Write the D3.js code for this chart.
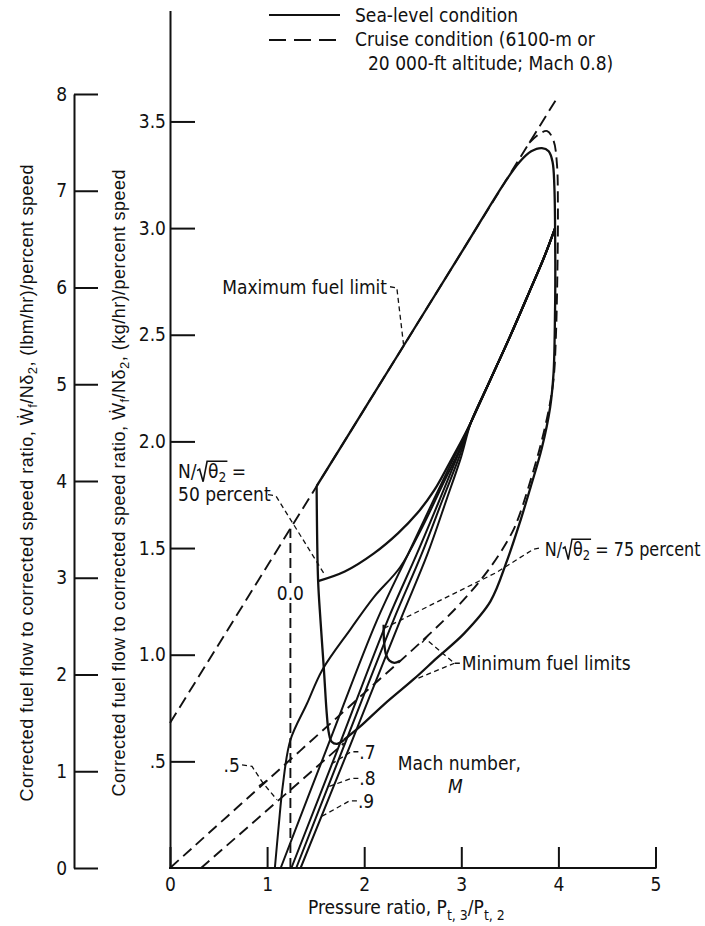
<!DOCTYPE html>
<html>
<head>
<meta charset="utf-8">
<script src="https://cdn.jsdelivr.net/npm/d3@7"></script>
<style>
  html, body { margin: 0; padding: 0; background: #fff; }
  svg { display: block; }
</style>
</head>
<body>
<svg id="chart" width="705" height="926"></svg>
<script>
// ---------- axis ticks ----------
const xTicks = [0, 1, 2, 3, 4, 5];
const kgTicks = [0.5, 1.0, 1.5, 2.0, 2.5, 3.0, 3.5];
const kgTickLabels = [".5", "1.0", "1.5", "2.0", "2.5", "3.0", "3.5"];
const lbmTicks = [0, 1, 2, 3, 4, 5, 6, 7, 8];

// ---------- sea-level condition (solid) ----------
// maximum fuel limit, 100-percent-speed edge and minimum fuel limit
const seaLevelEnvelope = [
  [1.51, 1.79], [2.0, 2.15], [2.5, 2.5175], [3.0, 2.885], [3.45, 3.216], [3.6, 3.31],
  [3.72, 3.36], [3.83, 3.375], [3.9, 3.36], [3.94, 3.31], [3.958, 3.2], [3.966, 3.0],
  [3.968, 2.75], [3.962, 2.5], [3.95, 2.32], [3.915, 2.16], [3.83, 1.97], [3.71, 1.78],
  [3.61, 1.63], [3.47, 1.44], [3.30, 1.25], [3.03, 1.10], [2.75, 0.985], [2.51, 0.885],
  [2.2, 0.765], [1.95, 0.66], [1.79, 0.60]
];
// 50-percent corrected speed: left edge with its hook
const speed50Edge = [
  [1.51, 1.79], [1.525, 1.35], [1.55, 1.16], [1.585, 0.93], [1.615, 0.72],
  [1.635, 0.635], [1.665, 0.592], [1.72, 0.582], [1.79, 0.60]
];
// 50-percent corrected speed curve running into the common trunk
const speed50Curve = [
  [1.525, 1.345], [1.8, 1.39], [2.1, 1.475], [2.35, 1.57], [2.55, 1.665],
  [2.72, 1.77], [2.88, 1.9], [3.0, 2.0], [3.1, 2.09]
];
// common upper trunk shared by the operating lines
const trunk = [[3.1, 2.09], [3.3, 2.29], [3.5, 2.49], [3.7, 2.70], [3.85, 2.86], [3.966, 3.0]];
// Mach-number operating lines
const mach00 = [
  [1.08, 0], [1.12, 0.2], [1.16, 0.38], [1.24, 0.60], [1.41, 0.77], [1.57, 0.93],
  [1.86, 1.12], [2.1, 1.27], [2.37, 1.41], [2.6, 1.6], [2.8, 1.79], [2.97, 1.95], [3.1, 2.09]
];
const mach05 = [[1.14, 0], [1.64, 0.59], [2.13, 1.16], [2.45, 1.47], [2.72, 1.73], [2.93, 1.93], [3.1, 2.09]];
const mach07 = [[1.25, 0], [1.73, 0.56], [2.24, 1.16], [2.54, 1.47], [2.78, 1.73], [2.96, 1.93], [3.1, 2.09]];
const mach08 = [[1.30, 0], [1.79, 0.57], [2.30, 1.16], [2.59, 1.47], [2.81, 1.73], [2.98, 1.93], [3.1, 2.09]];
const mach09 = [[1.345, 0], [1.86, 0.58], [2.37, 1.16], [2.65, 1.47], [2.85, 1.73], [3.0, 1.93], [3.1, 2.09]];
// 75-percent corrected speed hook
const speed75Hook = [[2.20, 1.14], [2.205, 1.06], [2.225, 1.0], [2.26, 0.972], [2.31, 0.962], [2.37, 0.972]];

// ---------- cruise condition (dashed) ----------
const cruiseMaxLine = [[0, 0.68], [4.0, 3.62]];
const cruiseEnvelope = [
  [3.70, 3.40], [3.80, 3.44], [3.885, 3.455], [3.95, 3.41], [3.985, 3.30], [3.995, 3.1],
  [3.99, 2.8], [3.975, 2.5], [3.952, 2.3], [3.91, 2.17], [3.815, 1.98], [3.695, 1.79],
  [3.595, 1.65], [3.52, 1.57], [3.3, 1.41], [3.0, 1.245], [2.61, 1.07], [2.0, 0.82],
  [1.0, 0.41], [0, 0]
];
const cruiseSpeedLine = [[1.24, 0], [1.24, 1.59]];
const cruiseMinLine = [[0.32, 0], [1.79, 0.585]];

// ---------- leaders ----------
const leaderMax = [[2.266, 2.725], [2.336, 2.72], [2.405, 2.455]];
const leader50 = [[1.01, 1.75], [1.09, 1.745], [1.60, 1.37]];
const leader75 = [[3.80, 1.50], [3.745, 1.495], [3.36, 1.385], [2.21, 1.125]];
const leaderMinUpper = [[2.985, 0.96], [2.93, 0.96], [2.63, 1.075]];
const leaderMinLower = [[2.93, 0.96], [2.53, 0.885]];
const leaderM05 = [[0.742, 0.483], [0.845, 0.476], [0.958, 0.398], [1.102, 0.32]];
const leaderM07 = [[1.94, 0.545], [1.865, 0.545], [1.67, 0.49]];
const leaderM08 = [[1.94, 0.42], [1.865, 0.42], [1.627, 0.38]];
const leaderM09 = [[1.925, 0.315], [1.85, 0.315], [1.555, 0.24]];

// ---------- drawing ----------
const FONT = "'DejaVu Sans Condensed', 'DejaVu Sans', sans-serif";
const TITLE_FONT = "'Liberation Sans', Arial, sans-serif";
const FS = 19;
const INK = "#111";

const svg = d3.select("#chart");
svg.append("rect").attr("width", 705).attr("height", 926).attr("fill", "#fff");

const x = d3.scaleLinear().domain([0, 5]).range([170, 655.5]);
const y = d3.scaleLinear().domain([0, 4.02]).range([868, 868 - 4.02 * 213.3]);
const yLbm = d3.scaleLinear().domain([0, 8]).range([868, 868 - 8 * 213.3 * 0.45359]);

const smooth = d3.line().x(d => x(d[0])).y(d => y(d[1])).curve(d3.curveCatmullRom.alpha(0.5));
const straight = d3.line().x(d => x(d[0])).y(d => y(d[1]));

function styleAxis(g) {
  g.selectAll("path.domain").attr("stroke", INK).attr("stroke-width", 2);
  g.selectAll(".tick line").attr("stroke", INK).attr("stroke-width", 2);
  g.selectAll(".tick text").attr("fill", INK).style("font-family", FONT).style("font-size", FS + "px");
}

// main (kg) axis
const gKg = svg.append("g").attr("transform", `translate(${x(0)},0)`)
  .call(d3.axisLeft(y).tickValues(kgTicks).tickFormat((d, i) => kgTickLabels[i])
    .tickSizeInner(-25).tickSizeOuter(0).tickPadding(4));
styleAxis(gKg);

// secondary (lbm) axis
const gLbm = svg.append("g").attr("transform", "translate(74,0)")
  .call(d3.axisLeft(yLbm).tickValues(lbmTicks).tickFormat(d3.format("d"))
    .tickSizeInner(-24).tickSizeOuter(0).tickPadding(7));
styleAxis(gLbm);

// pressure-ratio axis
const gX = svg.append("g").attr("transform", `translate(0,${y(0)})`)
  .call(d3.axisBottom(x).tickValues(xTicks).tickFormat(d3.format("d"))
    .tickSizeInner(-21).tickSizeOuter(0).tickPadding(10));
styleAxis(gX);
gX.select("path.domain").attr("d", `M${x(0) - 1},0H${x(5) + 1}`);

// curves
function drawSolid(pts, w = 2.3) {
  svg.append("path").attr("d", smooth(pts)).attr("fill", "none")
    .attr("stroke", INK).attr("stroke-width", w).attr("stroke-linejoin", "round");
}
function drawDashed(pts, gen = smooth, dash = "11,6", w = 1.9) {
  svg.append("path").attr("d", gen(pts)).attr("fill", "none")
    .attr("stroke", INK).attr("stroke-width", w).attr("stroke-dasharray", dash);
}
function drawLeader(pts) {
  svg.append("path").attr("d", straight(pts)).attr("fill", "none")
    .attr("stroke", INK).attr("stroke-width", 1.3).attr("stroke-dasharray", "5,3.5");
}
function tickOnLeader(p, q, len = 10) {
  const px = x(p[0]), py = y(p[1]), qx = x(q[0]), qy = y(q[1]);
  const dx = px - qx, dy = py - qy, L = Math.hypot(dx, dy);
  const nx = -dy / L * len / 2, ny = dx / L * len / 2;
  svg.append("line").attr("x1", px - nx).attr("y1", py - ny).attr("x2", px + nx).attr("y2", py + ny)
    .attr("stroke", INK).attr("stroke-width", 1.3);
}

// cruise condition (dashed)
drawDashed(cruiseMaxLine, straight, "12,6");
drawDashed(cruiseEnvelope);
drawDashed(cruiseSpeedLine, straight, "10,5");
drawDashed(cruiseMinLine, straight, "11,6");

// sea-level condition (solid)
drawSolid(seaLevelEnvelope);
drawSolid(speed50Edge);
drawSolid(speed50Curve.concat(trunk.slice(1)));
[mach00, mach05, mach07, mach08, mach09].forEach(m => drawSolid(m.concat(trunk.slice(1)), 2.0));
drawSolid(speed75Hook);

// leaders
[leaderMax, leader50, leader75, leaderMinUpper, leaderMinLower, leaderM05, leaderM07, leaderM08, leaderM09]
  .forEach(drawLeader);
tickOnLeader(leaderM05[2], leaderM05[1]);
tickOnLeader(leaderMinUpper[2], leaderMinUpper[1]);

// ---------- text ----------
function addText(txt, X, Y, anchor = "start", size = FS, extra = {}, parent = svg) {
  const t = parent.append("text").attr("x", X).attr("y", Y).attr("text-anchor", anchor)
    .attr("fill", INK).style("font-family", FONT).style("font-size", size + "px").text(txt);
  Object.entries(extra).forEach(([k, v]) => t.style(k, v));
  return t;
}

// N/sqrt(theta2) label with a drawn radical; optionally squeezed to a width
function rootLabel(X, Y, tail, maxW) {
  const g = svg.append("g").attr("transform", `translate(${X},${Y})`);
  const t1 = addText("N/", 0, 0, "start", FS, {}, g);
  const w1 = t1.node().getComputedTextLength();
  const rx = w1 + 0.5;
  const t2 = g.append("text").attr("x", rx + 11).attr("y", 0).attr("fill", INK)
    .style("font-family", FONT).style("font-size", FS + "px");
  t2.append("tspan").text("θ");
  t2.append("tspan").attr("dy", 4).style("font-size", (FS * 0.72) + "px").text("2");
  t2.append("tspan").attr("dy", -4).text(tail);
  const wTheta = t2.node().getSubStringLength(0, 2);
  const top = -FS * 0.86;
  g.append("path")
    .attr("d", `M${rx},-7 L${rx + 2.5},-8.5 L${rx + 6},4 L${rx + 10},${top} L${rx + 11 + wTheta + 1},${top}`)
    .attr("fill", "none").attr("stroke", INK).attr("stroke-width", 1.6).attr("stroke-linejoin", "miter");
  if (maxW) {
    const w = g.node().getBBox().width;
    if (w > maxW) g.attr("transform", `translate(${X},${Y}) scale(${maxW / w},1)`);
  }
}

// legend
svg.append("line").attr("x1", 269).attr("x2", 340).attr("y1", 15).attr("y2", 15)
  .attr("stroke", INK).attr("stroke-width", 2.2);
svg.append("line").attr("x1", 269).attr("x2", 340).attr("y1", 40).attr("y2", 40)
  .attr("stroke", INK).attr("stroke-width", 1.9).attr("stroke-dasharray", "17,8");
addText("Sea-level condition", 355, 22);
addText("Cruise condition (6100-m or", 355, 46);
addText("20 000-ft altitude; Mach 0.8)", 368, 70);

// annotations (anchored in data units)
addText("Maximum fuel limit", x(2.266) - 3, y(2.725) + 7, "end");
rootLabel(x(0.083), y(1.83), " =");
addText("50 percent", x(0.083), y(1.72));
rootLabel(x(3.86), y(1.465), " = 75 percent", 156);
addText("Minimum fuel limits", x(2.985) + 2, y(0.96) + 7);

// "0.0" sits on the cruise speed line; clear a small box behind it
const zeroLbl = addText("0.0", x(1.24), y(1.29) + 7, "middle");
const zb = zeroLbl.node().getBBox();
svg.insert("rect", () => zeroLbl.node()).attr("x", zb.x).attr("y", zb.y + 2)
  .attr("width", zb.width).attr("height", zb.height - 4).attr("fill", "#fff");

addText(".5", x(0.72), y(0.45), "end");
addText(".7", x(1.94) + 1, y(0.545) + 7);
addText(".8", x(1.94) + 1, y(0.42) + 7);
addText(".9", x(1.925) + 1, y(0.315) + 7);
addText("Mach number,", x(2.98), y(0.46), "middle");
addText("M", x(2.94), y(0.35), "middle", FS, { "font-style": "italic" });

// x-axis title
const xt = svg.append("text").attr("x", 308).attr("y", 914).attr("fill", INK)
  .style("font-family", FONT).style("font-size", FS + "px");
xt.append("tspan").text("Pressure ratio,  P");
xt.append("tspan").attr("dy", 6).style("font-size", "14px").text("t, 3");
xt.append("tspan").attr("dy", -6).text("/P");
xt.append("tspan").attr("dy", 6).style("font-size", "14px").text("t, 2");

// rotated y-axis titles
function yTitle(X, unit, len) {
  const t = svg.append("text").attr("transform", `translate(${X},483) rotate(-90)`)
    .attr("text-anchor", "middle").attr("fill", INK)
    .style("font-family", TITLE_FONT).style("font-size", "18px");
  t.append("tspan").text("Corrected fuel flow to corrected speed ratio,  Ẇ");
  t.append("tspan").attr("dy", 4).style("font-size", "13px").text("f");
  t.append("tspan").attr("dy", -4).text("/Nδ");
  t.append("tspan").attr("dy", 4).style("font-size", "13px").text("2");
  t.append("tspan").attr("dy", -4).text(",  " + unit);
  t.attr("textLength", len).attr("lengthAdjust", "spacing");
  return t;
}
yTitle(33, "(lbm/hr)/percent speed", 637);
yTitle(125, "(kg/hr)/percent speed", 627);
</script>
</body>
</html>
